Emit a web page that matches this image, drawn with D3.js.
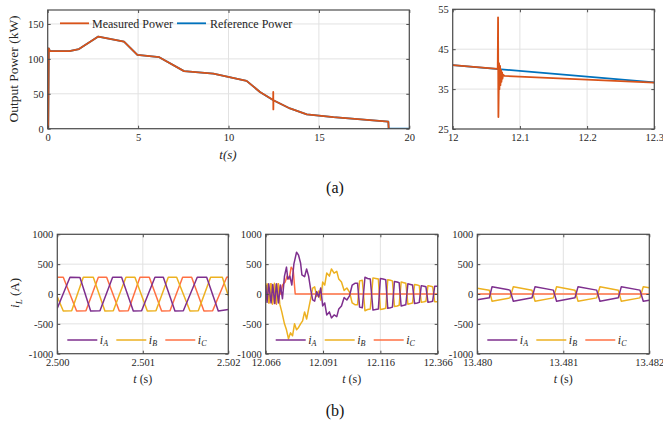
<!DOCTYPE html>
<html>
<head>
<meta charset="utf-8">
<script src="https://cdn.jsdelivr.net/npm/d3@7"></script>
<style>
body { margin: 0; background: #fff; }
svg, svg text { font-family: "Liberation Serif", "DejaVu Serif", serif; }
</style>
</head>
<body>
<script>
// ---- (a) output power, full run ----
var pwT_meas = [0, 0.03, 0.06, 0.12, 1.2, 1.73, 2.8, 4.22, 4.96, 6.17, 7.54, 9.16, 11.0, 11.74, 12.47, 12.475, 12.48, 12.485, 13.4, 14.33, 15.8, 18.84, 18.86];
var pw_meas  = [0, 0, 115, 111, 111, 114, 132, 124.7, 105.8, 102.4, 82.5, 78.8, 68.5, 52.6, 41, 52.6, 27.6, 40.8, 29, 20.5, 16.5, 10, 0];
var pwT_ref  = [0, 0.03, 0.06, 0.12, 1.2, 1.73, 2.8, 4.22, 4.96, 6.17, 7.54, 9.16, 11.0, 11.74, 12.48, 13.4, 14.33, 15.8, 18.84, 18.86, 20];
var pw_ref   = [0, 0, 115, 111, 111, 114, 132, 124.7, 105.8, 102.4, 82.5, 78.8, 68.5, 52.6, 40.8, 29, 20.5, 16.5, 10, 0, 0];

// ---- (a) zoom around the fault ----
var zrT_ref  = [12, 12.3];
var zr_ref   = [41, 36.7];
var zrT_meas = [12, 12.067, 12.0675, 12.068, 12.069, 12.0695, 12.0705, 12.071, 12.072, 12.0725, 12.0735, 12.074, 12.075, 12.077, 12.3];
var zr_meas  = [41, 40.05, 53, 28, 41.5, 35, 40.8, 36, 39.8, 36.8, 39.2, 37.6, 38.6, 38.3, 36.6];

// ---- (b) phase currents, panel 1 (t in s) ----
var p1T_A = [2.500000, 2.500148, 2.500265, 2.500390, 2.500499, 2.500647, 2.500752, 2.500889, 2.500986, 2.501142, 2.501240, 2.501376, 2.501474, 2.501637, 2.501747, 2.501883, 2.502000];
var p1_A  = [-240, 280, 275, -285, -280, 280, 280, -285, -280, 280, 280, -285, -280, 280, 280, -285, -260];
var p1T_B = [2.500000, 2.500070, 2.500168, 2.500304, 2.500421, 2.500557, 2.500655, 2.500803, 2.500908, 2.501053, 2.501154, 2.501298, 2.501396, 2.501552, 2.501649, 2.501793, 2.501930, 2.502000];
var p1_B  = [-45, -285, -280, 280, 280, -285, -280, 280, 280, -285, -280, 280, 280, -285, -280, 280, 280, -30];
var p1T_C = [2.500000, 2.500070, 2.500226, 2.500335, 2.500480, 2.500577, 2.500725, 2.500830, 2.500967, 2.501076, 2.501220, 2.501318, 2.501466, 2.501571, 2.501715, 2.501817, 2.501981, 2.502000];
var p1_C  = [280, 280, -285, -280, 280, 280, -285, -280, 280, 280, -285, -280, 280, 280, -285, -280, 280, 285];

// ---- (b) panel 2, t in ms after 12.066 s ----
var p2Start = 12.066;
var p2ms_A = [0, 0.58, 1.32, 2.34, 3.07, 3.95, 4.68, 5.56, 6.43, 7.31, 8.19, 9.06, 9.65, 10.53, 11.40, 12.28, 13.45, 14.33, 15.20, 15.79, 16.96, 17.84, 18.71, 19.59, 20.47, 21.35, 22.22, 23.10, 23.98, 24.85, 25.73, 26.61, 27.78, 28.66, 29.82, 31.00, 31.87, 33.04, 34.21, 35.38, 36.55, 37.72, 38.89, 40.06, 40.94, 42.11, 43.28, 44.44, 45.61, 46.78, 47.95, 49.12, 50.00, 51.17, 52.34, 53.22, 54.39, 55.26, 56.14, 57.31, 58.19, 59.06, 60.23, 61.11, 61.99, 63.15, 64.04, 64.91, 66.08, 66.96, 67.84, 69.00, 69.88, 70.76, 71.93, 72.81, 73.68, 75];
var p2_A   = [150, -140, 170, -150, 160, -160, 170, -150, 150, -80, 300, 450, 250, 300, 150, 500, 700, 650, 520, 320, 290, 420, 300, 80, -100, -120, 40, -50, 100, -200, -150, -350, -300, -400, -350, -380, -250, -200, -60, -100, -30, 150, 180, 180, -220, -230, 280, 260, 250, -270, -260, -250, 260, 250, 240, -240, -230, -220, 210, 200, 190, -200, -190, -180, 170, 160, 150, -160, -150, -140, 140, 130, 120, -140, -130, -120, 130, 130];
var p2ms_B = [0, 0.58, 1.32, 2.19, 2.92, 3.80, 4.53, 5.41, 6.14, 7.02, 8.19, 9.06, 9.94, 10.82, 11.70, 12.57, 13.45, 14.33, 15.20, 16.08, 16.96, 17.84, 18.71, 19.59, 20.47, 21.35, 22.22, 23.10, 23.98, 24.85, 25.73, 26.61, 27.78, 28.66, 29.82, 31.00, 31.87, 33.04, 34.21, 35.38, 36.55, 37.72, 38.89, 40.06, 40.94, 42.11, 43.28, 44.44, 45.61, 46.78, 47.95, 49.12, 50.00, 51.17, 52.34, 53.22, 54.39, 55.26, 56.14, 57.31, 58.19, 59.06, 60.23, 61.11, 61.99, 63.15, 64.04, 64.91, 66.08, 66.96, 67.84, 69.00, 69.88, 70.76, 71.93, 72.81, 73.68, 75];
var p2_B   = [-50, 170, -150, 170, -170, 180, -160, 170, -170, -300, -500, -600, -750, -650, -700, -500, -600, -560, -500, -450, -300, -420, -250, -80, 100, 120, -40, 50, -100, 200, 150, 350, 300, 420, 350, 380, 250, 200, 60, 100, 30, -150, -180, -180, 220, 230, -280, -260, -250, 270, 260, 250, -260, -250, -240, 240, 230, 220, -210, -200, -190, 200, 190, 180, -170, -160, -150, 160, 150, 140, -140, -130, -120, 140, 130, 120, -130, -130];
var p2ms_C = [0, 0.73, 1.46, 2.34, 3.07, 3.95, 4.68, 5.56, 6.43, 7.31, 8.48, 9.36, 10.23, 11.11, 11.99, 12.87, 75];
var p2_C   = [-100, 160, -150, 170, -160, 160, -170, 170, 0, 150, 200, 300, 250, 450, 400, 0, 0];

// ---- (b) panel 3 (t in s) ----
var p3T_AB = [13.480000, 13.480140, 13.480171, 13.480380, 13.480419, 13.480636, 13.480671, 13.480884, 13.480922, 13.481136, 13.481171, 13.481388, 13.481426, 13.481640, 13.481674, 13.481891, 13.481930, 13.482000];
var p3_A   = [-95, -62, 120, 65, -120, -62, 120, 65, -120, -62, 120, 65, -120, -62, 120, 65, -120, -105];
var p3_B   = [95, 62, -120, -65, 120, 62, -120, -65, 120, 62, -120, -65, 120, 62, -120, -65, 120, 105];
var p3T_C  = [13.480, 13.482];
var p3_C   = [0, 0];

// tick values / labels
var pwTicksX = [0, 5, 10, 15, 20], pwTicksY = [0, 50, 100, 150];
var zrTicksX = [12, 12.1, 12.2, 12.3], zrTicksY = [25, 35, 45, 55];
var iTicksY = [-1000, -500, 0, 500, 1000];
var p1Ticks = [2.500, 2.501, 2.502], p1Labels = ["2.500", "2.501", "2.502"];
var p2Ticks = [12.066, 12.091, 12.116, 12.141], p2Labels = ["12.066", "12.091", "12.116", "12.366"];
var p3Ticks = [13.480, 13.481, 13.482], p3Labels = ["13.480", "13.481", "13.482"];

var colMeas = "#D95319", colRef = "#0072BD";
var colA = "#7E2F8E", colB = "#EDB120", colC = "#FF7043";
var boxCol = "#4d4d4d", gridCol = "#e2e2e2", txtCol = "#262626";
var serif = "Liberation Serif, DejaVu Serif, serif";

function zip(t, v) { return t.map(function (d, i) { return [d, v[i]]; }); }
function msToS(ms) { return ms.map(function (d) { return p2Start + d / 1000; }); }

var svg = d3.select("body").append("svg")
    .attr("width", 663)
    .attr("height", 429)
    .attr("font-family", serif);

var clipId = 0;
function panel(o) {
    var x = d3.scaleLinear().domain(o.xdom).range([o.left, o.right]);
    var y = d3.scaleLinear().domain(o.ydom).range([o.bottom, o.top]);
    var g = svg.append("g");

    // grid
    g.selectAll(".gx").data(o.xticks).enter().append("line")
        .attr("x1", function (d) { return x(d); }).attr("x2", function (d) { return x(d); })
        .attr("y1", o.top).attr("y2", o.bottom)
        .attr("stroke", gridCol).attr("stroke-width", 1);
    g.selectAll(".gy").data(o.yticks).enter().append("line")
        .attr("x1", o.left).attr("x2", o.right)
        .attr("y1", function (d) { return y(d); }).attr("y2", function (d) { return y(d); })
        .attr("stroke", gridCol).attr("stroke-width", 1);

    clipId++;
    svg.append("clipPath").attr("id", "clip" + clipId).append("rect")
        .attr("x", o.left).attr("y", o.top)
        .attr("width", o.right - o.left).attr("height", o.bottom - o.top);

    var line = d3.line()
        .x(function (d) { return x(d[0]); })
        .y(function (d) { return y(d[1]); });

    var lg = g.append("g").attr("clip-path", "url(#clip" + clipId + ")");
    o.series.forEach(function (s) {
        lg.append("path")
            .datum(s.data)
            .attr("d", line)
            .attr("fill", "none")
            .attr("stroke", s.color)
            .attr("stroke-width", s.width || 1.5)
            .attr("stroke-linejoin", "round");
    });

    var xb = d3.axisBottom(x).tickValues(o.xticks).tickSize(-3).tickPadding(5)
        .tickFormat(function (d, i) { return o.xlabels ? o.xlabels[i] : String(d); });
    var yl = d3.axisLeft(y).tickValues(o.yticks).tickSize(-3).tickPadding(4)
        .tickFormat(function (d) { return String(d); });
    var xt = d3.axisTop(x).tickValues(o.xticks).tickSize(-3).tickFormat("");
    var yr = d3.axisRight(y).tickValues(o.yticks).tickSize(-3).tickFormat("");

    [[xb, "translate(0," + o.bottom + ")"], [yl, "translate(" + o.left + ",0)"],
     [xt, "translate(0," + o.top + ")"], [yr, "translate(" + o.right + ",0)"]].forEach(function (a) {
        var ax = g.append("g").attr("transform", a[1]).call(a[0]);
        ax.attr("font-family", serif).attr("font-size", 10.5);
        ax.select(".domain").remove();
        ax.selectAll("line").attr("stroke", boxCol);
        ax.selectAll("text").attr("fill", txtCol);
    });

    g.append("rect")
        .attr("x", o.left).attr("y", o.top)
        .attr("width", o.right - o.left).attr("height", o.bottom - o.top)
        .attr("fill", "none").attr("stroke", boxCol).attr("stroke-width", 1.2);

    return { x: x, y: y, g: g };
}

// (a) left
panel({
    left: 47.7, right: 409.3, top: 10, bottom: 128.7,
    xdom: [0, 20], ydom: [0, 170],
    xticks: pwTicksX, yticks: pwTicksY,
    series: [
        { data: zip(pwT_ref, pw_ref), color: colRef, width: 1.8 },
        { data: zip(pwT_meas, pw_meas), color: colMeas, width: 1.8 }
    ]
});

// legend (a)
var legA = [["Measured Power", colMeas, 60, 92], ["Reference Power", colRef, 177, 210]];
legA.forEach(function (l) {
    svg.append("line").attr("x1", l[2]).attr("x2", l[2] + 29).attr("y1", 23.3).attr("y2", 23.3)
        .attr("stroke", l[1]).attr("stroke-width", 1.8);
    svg.append("text").attr("x", l[3]).attr("y", 27.5).attr("font-size", "12px")
        .attr("fill", txtCol).text(l[0]);
});

svg.append("text")
    .attr("transform", "translate(18,69) rotate(-90)")
    .attr("text-anchor", "middle").attr("font-size", "13.5px").attr("fill", txtCol)
    .text("Output Power (kW)");
svg.append("text")
    .attr("x", 228).attr("y", 159).attr("text-anchor", "middle")
    .attr("font-size", "13px").attr("font-style", "italic").attr("fill", txtCol)
    .text("t(s)");

// (a) right
panel({
    left: 452.7, right: 654.3, top: 9.3, bottom: 129,
    xdom: [12, 12.3], ydom: [25, 55],
    xticks: zrTicksX, yticks: zrTicksY,
    series: [
        { data: zip(zrT_ref, zr_ref), color: colRef, width: 1.8 },
        { data: zip(zrT_meas, zr_meas), color: colMeas, width: 1.8 }
    ]
});

svg.append("text").attr("x", 335).attr("y", 193).attr("text-anchor", "middle")
    .attr("font-size", "16px").attr("fill", "#111").text("(a)");

// (b) panels
var bPanels = [
    { left: 57.3, right: 228.3, xdom: [2.500, 2.502], xticks: p1Ticks, xlabels: p1Labels,
      A: zip(p1T_A, p1_A), B: zip(p1T_B, p1_B), C: zip(p1T_C, p1_C) },
    { left: 265.7, right: 437.7, xdom: [12.066, 12.141], xticks: p2Ticks, xlabels: p2Labels,
      A: zip(msToS(p2ms_A), p2_A), B: zip(msToS(p2ms_B), p2_B), C: zip(msToS(p2ms_C), p2_C) },
    { left: 477.3, right: 649.3, xdom: [13.480, 13.482], xticks: p3Ticks, xlabels: p3Labels,
      A: zip(p3T_AB, p3_A), B: zip(p3T_AB, p3_B), C: zip(p3T_C, p3_C) }
];
var phaseNames = ["A", "B", "C"], phaseCols = [colA, colB, colC];

bPanels.forEach(function (p) {
    panel({
        left: p.left, right: p.right, top: 234.3, bottom: 353.7,
        xdom: p.xdom, ydom: [-1000, 1000],
        xticks: p.xticks, xlabels: p.xlabels, yticks: iTicksY,
        series: [
            { data: p.C, color: colC, width: 1.5 },
            { data: p.B, color: colB, width: 1.5 },
            { data: p.A, color: colA, width: 1.5 }
        ]
    });
    phaseNames.forEach(function (n, i) {
        var lx = p.left + 10 + i * 49;
        svg.append("line").attr("x1", lx).attr("x2", lx + 30).attr("y1", 340).attr("y2", 340)
            .attr("stroke", phaseCols[i]).attr("stroke-width", 1.5);
        var t = svg.append("text").attr("x", lx + 32.5).attr("y", 343.5)
            .attr("font-size", "12px").attr("fill", txtCol).attr("font-style", "italic");
        t.append("tspan").text("i");
        t.append("tspan").attr("font-size", "8px").attr("dy", 2.5).text(n);
    });
    var xl = svg.append("text").attr("x", (p.left + p.right) / 2).attr("y", 383)
        .attr("text-anchor", "middle").attr("font-size", "12px").attr("fill", txtCol);
    xl.append("tspan").attr("font-style", "italic").text("t");
    xl.append("tspan").text(" (s)");
});

var yl = svg.append("text")
    .attr("transform", "translate(19,293) rotate(-90)")
    .attr("text-anchor", "middle").attr("font-size", "13px").attr("fill", txtCol);
yl.append("tspan").attr("font-style", "italic").text("i");
yl.append("tspan").attr("font-style", "italic").attr("font-size", "9px").attr("dy", 3).text("L");
yl.append("tspan").attr("dy", -3).text(" (A)");

svg.append("text").attr("x", 335).attr("y", 416).attr("text-anchor", "middle")
    .attr("font-size", "16px").attr("fill", "#111").text("(b)");
</script>
</body>
</html>
